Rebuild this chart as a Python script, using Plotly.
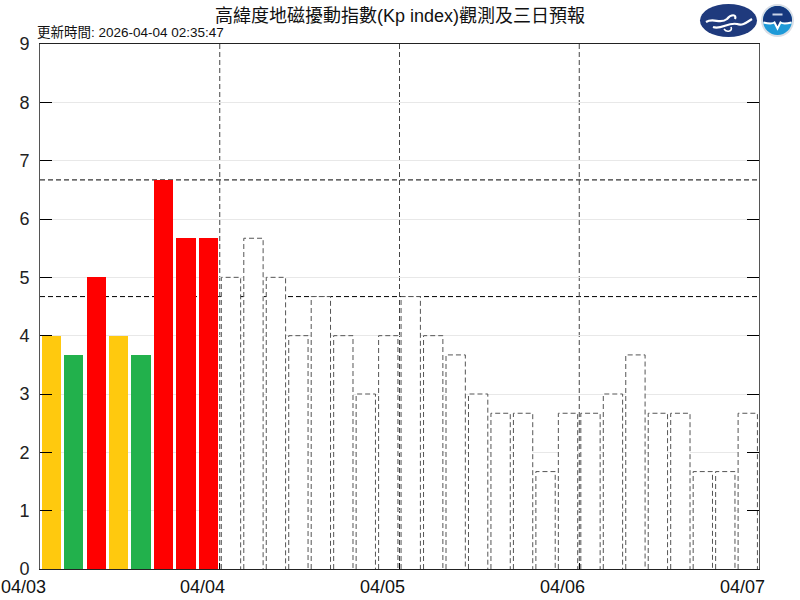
import plotly.graph_objects as go
import numpy as np

# ---------------- data ----------------
day_labels = ["04/03", "04/04", "04/05", "04/06", "04/07"]
obs_kp = [4.00, 3.67, 5.00, 4.00, 3.67, 6.67, 5.67, 5.67]
fc_kp = [5.00, 5.67, 5.00, 4.00, 4.67, 4.00, 3.00, 4.00,
         4.67, 4.00, 3.67, 3.00, 2.67, 2.67, 1.67, 2.67,
         2.67, 3.00, 3.67, 2.67, 2.67, 1.67, 1.67, 2.67]
thresholds = [4.67, 6.67]
title_text = "高緯度地磁擾動指數(Kp index)觀測及三日預報"
update_text = "更新時間: 2026-04-04 02:35:47"

SLOTS_PER_DAY = 8
n_obs = len(obs_kp)
n_total = n_obs + len(fc_kp)


def kp_color(v):
    if v >= 5:
        return "#FF0000"
    if v >= 4:
        return "#FFC90E"
    return "#22B14C"


FONT = "Liberation Sans, Arial, Noto Sans CJK TC, sans-serif"

# plot-area geometry in pixels (for decoration placement)
L, R, T, B = 40, 759, 44, 569
W, H = R - L, B - T


def px(X):
    return (X - L) / W


def py(Y):
    return (B - Y) / H


fig = go.Figure()

# observed bars
obs_x = [i + 0.5 for i in range(n_obs)]
fig.add_trace(go.Bar(
    x=obs_x, y=obs_kp, width=0.86,
    marker=dict(color=[kp_color(v) for v in obs_kp], line=dict(width=0)),
    showlegend=False, hoverinfo="y"))

# forecast bars: white fill with dashed outline
hw = 0.43
xs, ys = [], []
for j, v in enumerate(fc_kp):
    c = n_obs + j + 0.5
    xs += [c - hw, c - hw, c + hw, c + hw, None]
    ys += [0, v, v, 0, None]
fig.add_trace(go.Scatter(
    x=xs, y=ys, mode="lines", fill="toself", fillcolor="white",
    line=dict(color="#555555", width=1, dash="5px,3px"),
    showlegend=False, hoverinfo="skip"))

shapes = []
# threshold dashed lines (below bars)
for t in thresholds:
    shapes.append(dict(type="line", xref="paper", yref="y", x0=0, x1=1, y0=t, y1=t,
                       line=dict(color="black", width=1, dash="5px,3px"), layer="below"))
# day boundary lines
for d in range(1, len(day_labels) - 1):
    xd = d * SLOTS_PER_DAY
    shapes.append(dict(type="line", xref="x", yref="paper", x0=xd, x1=xd, y0=0, y1=1,
                       line=dict(color="#444444", width=1, dash="5px,3px"), layer="below"))

# ---- logos (decoration) ----
def path_from(points, close=True):
    s = "M " + " L ".join(f"{px(a):.5f},{py(b):.5f}" for a, b in points)
    return s + (" Z" if close else "")


def curve(cmds):
    out = []
    for c in cmds:
        if isinstance(c, str):
            out.append(c)
        else:
            out.append(f"{px(c[0]):.5f},{py(c[1]):.5f}")
    return " ".join(out)


# CWA ellipse
shapes.append(dict(type="circle", xref="paper", yref="paper",
                   x0=px(700), x1=px(757), y0=py(37), y1=py(4),
                   fillcolor="#1F3A7D", line=dict(width=0), layer="above"))
shapes.append(dict(type="path", xref="paper", yref="paper", layer="above",
                   path=curve(["M", (706, 22), "C", (714, 17), (720, 25), (727, 19),
                               "C", (731, 14), (737, 14), (735, 19)]),
                   line=dict(color="white", width=2.2)))
shapes.append(dict(type="path", xref="paper", yref="paper", layer="above",
                   path=curve(["M", (713, 27), "C", (721, 30), (728, 22), (737, 24),
                               "C", (743, 26), (747, 22), (752, 19)]),
                   line=dict(color="white", width=2.2)))
shapes.append(dict(type="path", xref="paper", yref="paper", layer="above",
                   path=curve(["M", (724, 29), "C", (727, 33), (733, 31), (731, 27)]),
                   line=dict(color="white", width=1.6)))

# NOAA circle
cx, cy, r = 777.5, 20.5, 16.5
shapes.append(dict(type="circle", xref="paper", yref="paper",
                   x0=px(cx - r), x1=px(cx + r), y0=py(cy + r), y1=py(cy - r),
                   fillcolor="#D9DEE6", line=dict(width=0), layer="above"))
r2 = 14.5
shapes.append(dict(type="circle", xref="paper", yref="paper",
                   x0=px(cx - r2), x1=px(cx + r2), y0=py(cy + r2), y1=py(cy - r2),
                   fillcolor="#1E9AD8", line=dict(width=0), layer="above"))
ang = np.linspace(np.pi * 0.97, np.pi * 2.03, 40)
top_pts = [(cx + r2 * np.cos(a), cy + r2 * np.sin(a)) for a in ang]
top_pts += [(cx + 9, cy + 3), (cx + 3, cy + 1), (cx, cy + 6), (cx - 3, cy + 1), (cx - 9, cy + 3)]
shapes.append(dict(type="path", xref="paper", yref="paper", layer="above",
                   path=path_from(top_pts), fillcolor="#16387E", line=dict(width=0)))
shapes.append(dict(type="path", xref="paper", yref="paper", layer="above",
                   path=curve(["M", (cx - 14, cy + 2), "Q", (cx - 6, cy + 4), (cx - 3, cy + 2),
                               "L", (cx, cy + 8), "L", (cx + 3, cy + 2),
                               "Q", (cx + 6, cy + 4), (cx + 14, cy + 2)]),
                   line=dict(color="white", width=2)))
shapes.append(dict(type="line", xref="paper", yref="paper", layer="above",
                   x0=px(cx - 5), x1=px(cx + 5), y0=py(cy - 6), y1=py(cy - 6),
                   line=dict(color="#C8D2E6", width=2)))

annotations = []
# x-axis day labels
for d, lab in enumerate(day_labels):
    annotations.append(dict(x=d * SLOTS_PER_DAY, y=0, xref="x", yref="y", text=lab,
                            showarrow=False, xanchor="center", yanchor="top",
                            xshift=-17, yshift=-6,
                            font=dict(family=FONT, size=18, color="#111111")))
annotations.append(dict(x=0.5, y=py(16), xref="paper", yref="paper", text=title_text,
                        showarrow=False, xanchor="center", yanchor="middle",
                        font=dict(family=FONT, size=18, color="#111111")))
annotations.append(dict(x=px(35), y=py(42), xref="paper", yref="paper", text=update_text,
                        showarrow=False, xanchor="left", yanchor="bottom",
                        font=dict(family=FONT, size=13.5, color="#111111")))

fig.update_layout(
    width=800, height=600,
    margin=dict(l=L, r=800 - R, t=T, b=600 - B),
    paper_bgcolor="white", plot_bgcolor="white",
    shapes=shapes, annotations=annotations,
    showlegend=False, bargap=0,
    font=dict(family=FONT, color="#111111"),
)
fig.update_xaxes(range=[0, n_total], tickvals=[8, 16, 24], showticklabels=False,
                 ticks="inside", ticklen=6, tickcolor="black",
                 showgrid=False, zeroline=False, showline=True, linecolor="#222222",
                 linewidth=1, mirror=True, fixedrange=True)
fig.update_yaxes(range=[0, 9], dtick=1, tick0=0, ticks="inside", ticklen=12,
                 tickcolor="black", showline=True, linecolor="#555555", linewidth=1,
                 mirror="ticks", gridcolor="#E8E8E8", gridwidth=1, zeroline=False,
                 tickfont=dict(family=FONT, size=18, color="#222222"),
                 ticklabelstandoff=6, fixedrange=True)

fig.write_html("out.html",
               post_script="document.body.style.margin='0px';document.body.style.padding='0px';",
               config={"displayModeBar": False})
